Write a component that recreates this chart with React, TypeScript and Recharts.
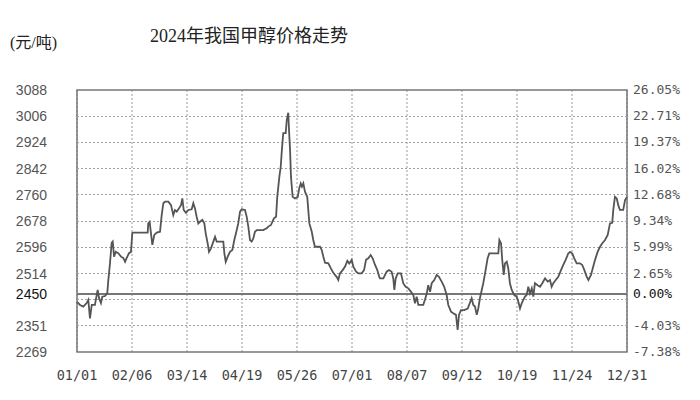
import {
  LineChart,
  Line,
  XAxis,
  YAxis,
  CartesianGrid,
  ReferenceLine,
  ReferenceArea,
} from "recharts";

// days since 01/01
const days = [
  0, 2.0, 4.2, 6.4, 7.5, 8.6, 9.8, 11.9, 13.7, 14.6, 15.9, 16.8, 18.6, 20.1, 20.8, 21.9, 23.0, 23.7,
  24.6, 25.7, 27.4, 29.2, 30.7, 31.9, 33.0, 34.5, 35.8, 36.7, 37.4, 46.9, 47.3, 48.2, 49.1, 50.0,
  51.3, 52.9, 55.1, 56.2, 57.3, 58.4, 60.6, 62.4, 63.9, 65.0, 66.2, 67.7, 69.0, 69.9, 70.8, 72.3,
  73.9, 76.1, 77.2, 78.3, 79.4, 80.5, 81.6, 83.2, 84.5, 85.4, 86.7, 87.6, 88.9, 90.5, 91.6, 92.7,
  97.1, 97.8, 98.7, 100.0, 101.5, 103.1, 104.4, 106.0, 107.0, 108.2, 109.3, 111.5, 112.6, 113.7,
  114.8, 115.9, 117.0, 118.1, 119.3, 123.6, 125.9, 127.0, 128.7, 130.7, 132.1, 132.9, 134.3, 135.2,
  135.8, 136.5, 136.9, 138.5, 139.2, 140.2, 140.7, 141.4, 142.0, 143.1, 144.7, 146.5, 147.5, 148.5,
  149.3, 150.2, 151.3, 152.8, 154.2, 155.8, 156.8, 157.9, 161.3, 162.4, 163.5, 164.6, 166.8, 168.4,
  169.7, 171.2, 172.3, 173.4, 174.5, 176.3, 177.9, 179.4, 180.7, 182.3, 183.4, 185.2, 186.7, 188.9,
  190.5, 191.8, 193.3, 194.9, 196.2, 197.8, 199.3, 200.6, 201.1, 203.3, 205.5, 207.1, 208.8, 209.9,
  210.6, 211.5, 212.8, 215.0, 216.5, 218.1, 219.9, 221.7, 223.2, 224.3, 225.4, 226.5, 229.8, 230.9,
  232.1, 233.1, 234.3, 235.4, 237.1, 238.7, 240.2, 242.0, 243.7, 245.3, 246.4, 248.2, 249.7, 251.5,
  252.6, 253.5, 254.8, 257.0, 259.3, 261.9, 263.0, 264.1, 265.3, 266.3, 267.4, 268.6, 269.6, 270.8,
  272.5, 273.6, 277.4, 279.6, 280.3, 281.4, 282.2, 283.2, 284.0, 285.2, 286.2, 287.3, 288.5, 290.2,
  291.8, 292.9, 294.0, 295.1, 296.2, 297.3, 298.4, 299.5, 300.6, 301.8, 302.8, 303.9, 305.7, 307.3,
  308.8, 310.6, 312.4, 313.9, 315.0, 316.1, 317.7, 319.4, 321.2, 322.7, 324.3, 326.0, 327.2, 328.7,
  330.0, 331.6, 333.8, 335.3, 336.7, 338.3, 339.4, 341.1, 342.6, 343.8, 345.5, 347.1, 348.6, 350.4,
  352.2, 353.7, 355.2, 355.9, 357.0, 358.2, 359.2, 360.3, 362.5, 363.7, 365.0,
];

// price, 元/吨
const prices = [
  2426, 2416, 2411, 2422, 2432, 2374, 2416, 2416, 2463, 2438, 2422, 2442, 2444, 2453, 2494, 2547, 2610, 2614,
  2567, 2582, 2578, 2567, 2563, 2551, 2563, 2578, 2582, 2641, 2642, 2642, 2671, 2676, 2640, 2604,
  2635, 2642, 2645, 2697, 2734, 2739, 2739, 2728, 2697, 2713, 2708, 2718, 2728, 2749, 2713, 2704,
  2713, 2715, 2734, 2718, 2692, 2671, 2676, 2682, 2671, 2640, 2609, 2582, 2593, 2614, 2629, 2614,
  2614, 2577, 2551, 2567, 2582, 2588, 2619, 2650, 2671, 2708, 2715, 2713, 2692, 2661,
  2619, 2614, 2624, 2645, 2650, 2650, 2656, 2661, 2666, 2687, 2692, 2754, 2817, 2848,
  2890, 2932, 2953, 2953, 2994, 3017, 2963, 2900, 2817, 2754, 2749, 2754, 2781, 2796,
  2786, 2796, 2770, 2754, 2671, 2645, 2619, 2598, 2598, 2588, 2567, 2548, 2546, 2531,
  2520, 2510, 2504, 2494, 2515, 2525, 2536, 2554, 2546, 2557, 2536, 2520, 2515, 2515,
  2525, 2557, 2562, 2572, 2562, 2541, 2525, 2504, 2499, 2499, 2520, 2525, 2520, 2499,
  2463, 2499, 2515, 2515, 2484, 2473, 2468, 2457, 2447, 2421, 2442, 2416, 2416, 2432,
  2452, 2478, 2457, 2484, 2494, 2510, 2504, 2489, 2473, 2447, 2416, 2395, 2390, 2385,
  2338, 2385, 2400, 2400, 2405, 2437, 2416, 2411, 2385, 2405, 2437, 2463, 2484, 2515,
  2562, 2577, 2577, 2577, 2619, 2609, 2557, 2510, 2546, 2551, 2531, 2484, 2463, 2447,
  2442, 2426, 2405, 2421, 2432, 2442, 2447, 2473, 2452, 2468, 2442, 2484, 2478, 2473,
  2484, 2499, 2489, 2494, 2473, 2484, 2494, 2504, 2525, 2541, 2557, 2577, 2582, 2577,
  2562, 2546, 2546, 2541, 2525, 2504, 2494, 2510, 2536, 2557, 2582, 2598, 2609, 2619,
  2635, 2671, 2673, 2713, 2754, 2749, 2728, 2713, 2713, 2744, 2754,
];

const xTicks = [0, 36.5, 73, 109.5, 146, 182.5, 219, 255.5, 292, 328.5, 365];
const xTickLabels = ["01/01", "02/06", "03/14", "04/19", "05/26", "07/01", "08/07", "09/12", "10/19", "11/24", "12/31"];

const basePrice = 2450;
const yTicks = [2269, 2351, 2432, 2450, 2514, 2596, 2678, 2760, 2842, 2924, 3006, 3088];
const gridTicks = [2351, 2432, 2514, 2596, 2678, 2760, 2842, 2924, 3006];
const leftTickLabels = ["2269", "2351", "", "2450", "2514", "2596", "2678", "2760", "2842", "2924", "3006", "3088"];
const rightTickLabels = ["-7.38%", "-4.03%", "", "0.00%", "2.65%", "5.99%", "9.34%", "12.68%", "16.02%", "19.37%", "22.71%", "26.05%"];

const data = days.map((d, i) => ({ day: d, price: prices[i] }));

const MONO = "'DejaVu Sans Mono', monospace";

function LeftTick(props: any) {
  const { x, y, payload } = props;
  const i = yTicks.indexOf(payload.value);
  const label = leftTickLabels[i];
  if (!label) return null;
  const isBase = payload.value === basePrice;
  return (
    <text
      x={x - 30}
      y={y}
      dy={5}
      textAnchor="end"
      fontFamily="'Liberation Sans', Arial, sans-serif"
      fontSize={14}
      fill={isBase ? "#111" : "#555"}
    >
      {label}
    </text>
  );
}

function RightTick(props: any) {
  const { x, y, payload } = props;
  const i = yTicks.indexOf(payload.value);
  const label = rightTickLabels[i];
  if (!label) return null;
  const isBase = payload.value === basePrice;
  return (
    <text x={x + 6} y={y} dy={4} textAnchor="start" fontFamily={MONO} fontSize={13} fill={isBase ? "#111" : "#555"}>
      {label}
    </text>
  );
}

function BottomTick(props: any) {
  const { x, y, payload } = props;
  const i = xTicks.indexOf(payload.value);
  return (
    <text x={x} y={y} dy={28} textAnchor="middle" fontFamily={MONO} fontSize={13.5} fill="#444">
      {xTickLabels[i]}
    </text>
  );
}

export default function App() {
  return (
    <div style={{ position: "relative", width: 700, height: 400, background: "#fff" }}>
      <style>{`body{margin:0}`}</style>
      <div
        style={{
          position: "absolute",
          left: 150,
          top: 21,
          fontSize: 18,
          color: "#222",
          fontFamily: "'Liberation Serif', 'Noto Sans CJK SC', serif",
          whiteSpace: "nowrap",
        }}
      >
        2024年我国甲醇价格走势
      </div>
      <div
        style={{
          position: "absolute",
          left: 10,
          top: 29,
          fontSize: 16,
          color: "#222",
          fontFamily: "'Liberation Serif', 'Noto Sans CJK SC', serif",
          whiteSpace: "nowrap",
        }}
      >
        (元/吨)
      </div>
      <LineChart
        width={700}
        height={400}
        data={data}
        margin={{ top: 90, right: 0, bottom: 0, left: 0 }}
      >
        <CartesianGrid stroke="#999" strokeDasharray="2 2" horizontal={false} />
        <XAxis
          dataKey="day"
          type="number"
          domain={[0, 365]}
          ticks={xTicks}
          interval={0}
          tick={<BottomTick />}
          tickLine={false}
          axisLine={false}
          tickSize={0}
          tickMargin={0}
          height={48}
        />
        <YAxis
          type="number"
          domain={[2269, 3088]}
          ticks={yTicks}
          interval={0}
          tick={<LeftTick />}
          tickLine={false}
          axisLine={false}
          tickSize={0}
          tickMargin={0}
          width={77}
        />
        <YAxis
          yAxisId="right"
          orientation="right"
          type="number"
          domain={[2269, 3088]}
          ticks={yTicks}
          interval={0}
          tick={<RightTick />}
          tickLine={false}
          axisLine={false}
          tickSize={0}
          tickMargin={0}
          width={73}
        />
        {gridTicks.map((v) => (
          <ReferenceLine
            key={v}
            y={v}
            stroke="#a0a0a0"
            strokeWidth={1}
            strokeDasharray="2 2"
            shapeRendering="crispEdges"
          />
        ))}
        <ReferenceArea
          x1={0}
          x2={365}
          y1={2269}
          y2={3088}
          fill="none"
          stroke="#777"
          strokeWidth={1.5}
        />
        <ReferenceLine y={basePrice} stroke="#777" strokeWidth={2} />
        <Line
          yAxisId="right"
          dataKey="price"
          type="linear"
          stroke="none"
          dot={false}
          activeDot={false}
          isAnimationActive={false}
        />
        <Line
          dataKey="price"
          type="linear"
          stroke="#555"
          strokeWidth={1.8}
          dot={false}
          isAnimationActive={false}
        />
      </LineChart>
    </div>
  );
}
